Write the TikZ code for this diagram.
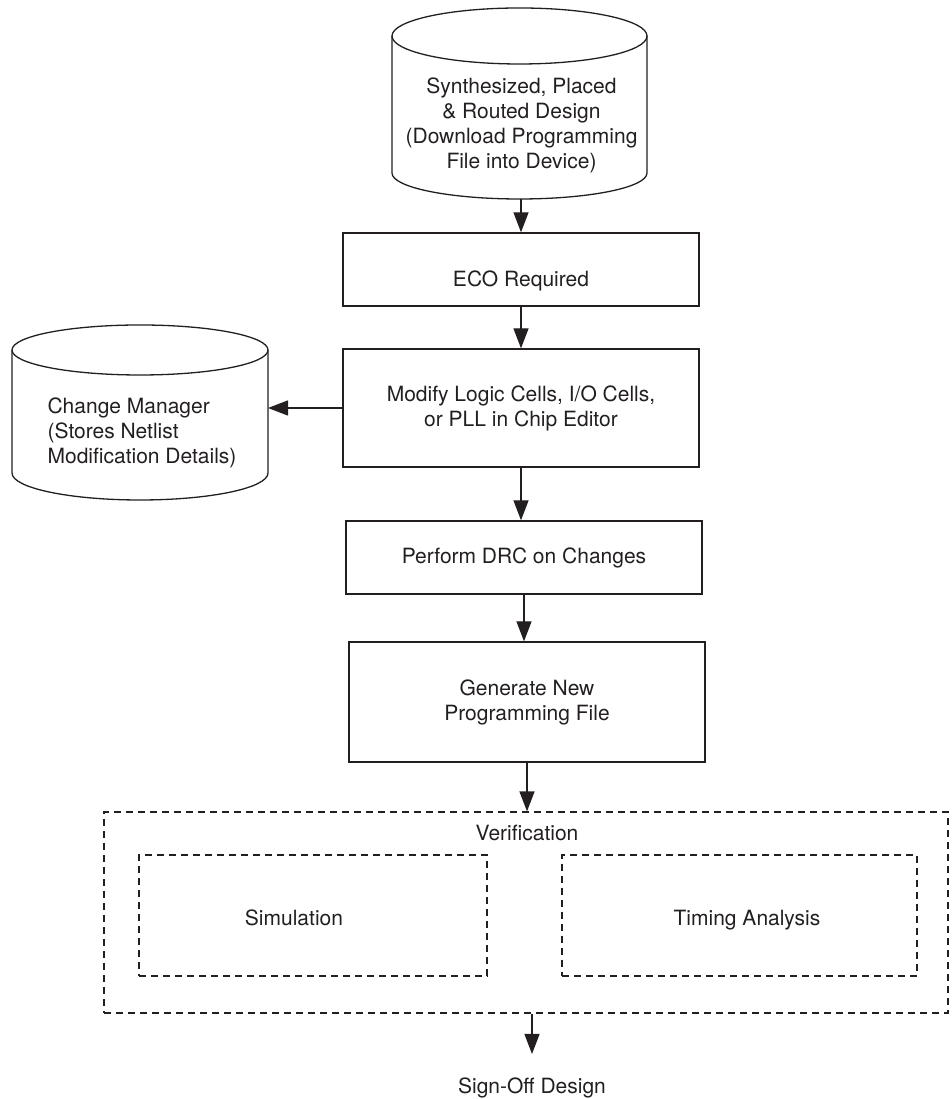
\documentclass[tikz,border=0pt]{standalone}
\usepackage{fontspec}
\setmainfont{TeX Gyre Heros}
\usetikzlibrary{arrows.meta}
\definecolor{ink}{RGB}{35,31,32}
\begin{document}
\begin{tikzpicture}[x=1pt,y=1pt,
  every node/.style={font=\fontsize{21}{25}\selectfont, text=ink},
  box/.style={draw=ink, line width=1.3pt, minimum width=356pt, inner sep=0pt, align=center},
  dbox/.style={draw=ink, line width=1.2pt, dash pattern=on 7pt off 5pt, inner sep=0pt},
  cyl/.style={draw=ink, line width=1.3pt},
  arr/.style={draw=ink, line width=1.3pt, -{Triangle[length=20pt,width=15pt]}},
]
\useasboundingbox (0,0) rectangle (951,1099);

% top database cylinder
\draw[cyl] (519.5,1063) ellipse[x radius=127.5, y radius=28];
\draw[cyl] (392,1063) -- (392,926) arc[start angle=180, end angle=360, x radius=127.5, y radius=26] -- (647,1063);
\node[align=center] (src) at (521.5,973.5) {Synthesized, Placed\\\& Routed Design\\(Download Programming\\File into Device)};
\coordinate (srcb) at (521,900);

% change manager cylinder
\draw[cyl] (140,749) ellipse[x radius=128, y radius=25];
\draw[cyl] (12,749) -- (12,626) arc[start angle=180, end angle=360, x radius=128, y radius=27] -- (268,749);
\node[align=left] (cm) at (142,666) {Change Manager\\(Stores Netlist\\Modification Details)};
\coordinate (cmr) at (268,690);

% process boxes
\node[box, minimum height=73pt, text height=38pt, text depth=4pt] (eco) at (521,829.5) {ECO Required};
\node[box, minimum height=118pt] (mod) at (521,691) {Modify Logic Cells, I/O Cells,\\or PLL in Chip Editor};
\node[box, minimum height=73pt] (drc) at (524,541.5) {Perform DRC on Changes};
\node[box, minimum height=120pt] (gen) at (527,397) {Generate New\\Programming File};

% verification
\node[dbox, minimum width=844pt, minimum height=201pt] (ver) at (526,186.5) {};
\node (verl) at (527,266) {Verification};
\node[dbox, minimum width=348pt, minimum height=121pt, text height=24pt, text depth=4pt] (sim) at (313,183.5) {Simulation\hspace*{38pt}};
\node[dbox, minimum width=355pt, minimum height=121pt, text height=24pt, text depth=4pt] (tim) at (739.5,183.5) {\hspace*{15pt}Timing Analysis};

% sign-off
\node[anchor=base] (so) at (532,5.5) {Sign-Off Design};
\coordinate (soin) at (532,45);

% connectors
\draw[arr] (srcb) -- (eco.north);
\draw[arr] (eco.south) -- (mod.north);
\draw[arr] (mod.south) -- (mod.south |- drc.north);
\draw[arr] (drc.south) -- (drc.south |- gen.north);
\draw[arr] (gen.south) -- (gen.south |- ver.north);
\draw[arr] (mod.west) -- (cmr |- mod.west);
\draw[arr] (so.north |- ver.south) -- (soin);
\end{tikzpicture}
\end{document}
